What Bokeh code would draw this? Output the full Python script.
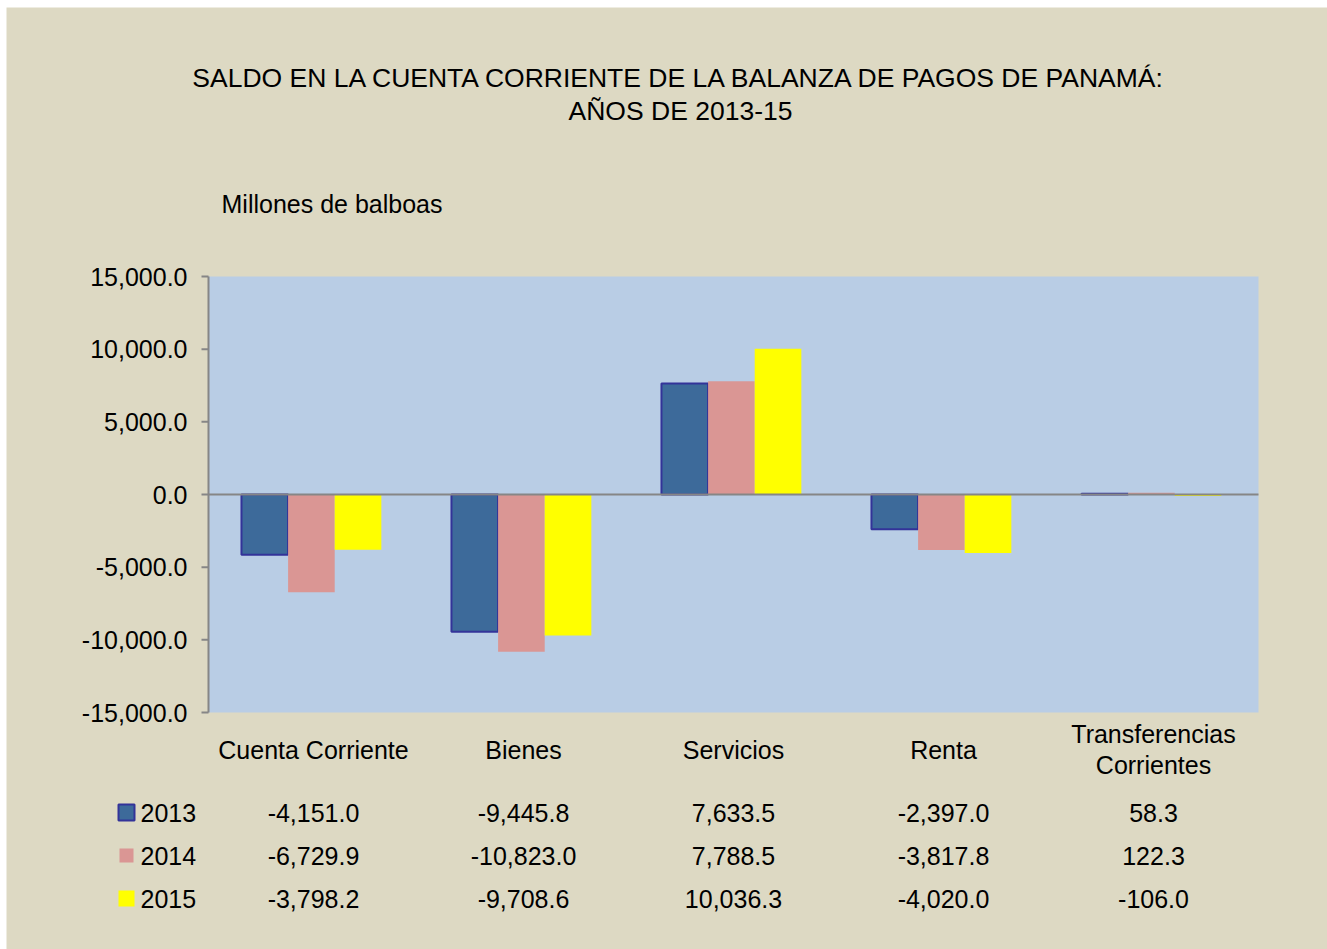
from bokeh.plotting import figure
from bokeh.models import Range1d, BoxAnnotation
from bokeh.embed import file_html
from bokeh.resources import INLINE
from bokeh.core.properties import value

# ---- data ----
categories = ["Cuenta Corriente", "Bienes", "Servicios", "Renta", "Transferencias\nCorrientes"]
years = ["2013", "2014", "2015"]
v2013 = [-4151.0, -9445.8, 7633.5, -2397.0, 58.3]
v2014 = [-6729.9, -10823.0, 7788.5, -3817.8, 122.3]
v2015 = [-3798.2, -9708.6, 10036.3, -4020.0, -106.0]
y_ticks = [-15000, -10000, -5000, 0, 5000, 10000, 15000]
title_lines = ["SALDO EN LA CUENTA CORRIENTE DE LA BALANZA DE PAGOS DE PANAMÁ:", "AÑOS DE 2013-15"]
unit_label = "Millones de balboas"

# ---- layout / style ----
FONT = value("Liberation Sans")
FS = value("25px")
FS_TITLE = value("26.5px")
BG = "#DDD9C3"
PLOT_BG = "#B9CDE5"
COLORS = ["#3D6A9A", "#DA9694", "#FFFF00"]
OUTLINES = ["#333399", None, None]
GRAY = "#868686"

MARGIN_L, MARGIN_T = 6, 7           # white strip of the page
PAGE_W, PAGE_H = 1327, 949
PL, PR, PT, PB = 208, 1258, 276, 712  # plot area in page pixels
YMIN, YMAX = y_ticks[0], y_ticks[-1]
N = len(categories)

xs_per_px = N / (PR - PL)
ys_per_px = (YMAX - YMIN) / (PB - PT)

def dx(px):
    return (px - PL) * xs_per_px

def dy(py):
    return YMIN + (PB - py) * ys_per_px

W, H = PAGE_W - MARGIN_L, PAGE_H - MARGIN_T
p = figure(width=W, height=H,
           x_range=Range1d(dx(MARGIN_L), dx(PAGE_W)),
           y_range=Range1d(dy(PAGE_H), dy(MARGIN_T)),
           output_backend="svg", toolbar_location=None,
           x_axis_location=None, y_axis_location=None, min_border=0)
p.margin = (MARGIN_T, 0, 0, MARGIN_L)
p.background_fill_color = BG
p.border_fill_color = BG
p.outline_line_color = None
p.grid.visible = False

# plot area
p.add_layout(BoxAnnotation(left=0, right=N, bottom=YMIN, top=YMAX, fill_color=PLOT_BG,
                           fill_alpha=1, line_color=None, level="underlay"))

# bars
bw = 0.222
series = [v2013, v2014, v2015]
for k, vals in enumerate(series):
    xs = [i + 0.49 + (k - 1) * bw for i in range(N)]
    if OUTLINES[k]:
        p.vbar(x=xs, top=vals, bottom=0, width=bw, fill_color=COLORS[k],
               line_color=OUTLINES[k], line_width=2)
    else:
        p.vbar(x=xs, top=vals, bottom=0, width=bw, fill_color=COLORS[k], line_color=None)

# zero line
p.segment(x0=[0], y0=[0], x1=[N], y1=[0], line_color=GRAY, line_width=2)

# y axis
p.segment(x0=[0], y0=[YMIN], x1=[0], y1=[YMAX], line_color=GRAY, line_width=2)
tick_len = 7 * xs_per_px
p.segment(x0=[-tick_len] * len(y_ticks), y0=y_ticks, x1=[0] * len(y_ticks), y1=y_ticks,
          line_color=GRAY, line_width=2)
p.text(x=[dx(187)] * len(y_ticks), y=y_ticks, text=[f"{t:,.1f}" for t in y_ticks],
       text_align="right", text_baseline="middle", text_font=FONT, text_font_size=FS,
       text_color="black")

# title and unit label
p.text(x=[dx(680)] * 2, y=[dy(77), dy(110)], text=title_lines, text_align="center",
       text_baseline="middle", text_font=FONT, text_font_size=FS_TITLE, text_color="black")
p.text(x=[dx(221)], y=[dy(203)], text=[unit_label], text_align="left",
       text_baseline="middle", text_font=FONT, text_font_size=FS, text_color="black")

# category labels
p.text(x=[i + 0.5 for i in range(N)], y=[dy(749)] * N, text=categories, text_align="center",
       text_baseline="middle", text_font=FONT, text_font_size=FS, text_color="black",
       text_line_height=1.12)

# data table with legend keys
row_py = [812, 855, 898]
key_sizes = [16, 14, 16]
for k, vals in enumerate(series):
    yrow = dy(row_py[k])
    p.scatter(x=[dx(126)], y=[yrow], marker="square", size=key_sizes[k], fill_color=COLORS[k],
              line_color=OUTLINES[k] if OUTLINES[k] else None, line_width=2)
    p.text(x=[dx(140)], y=[yrow], text=[years[k]], text_align="left", text_baseline="middle",
           text_font=FONT, text_font_size=FS, text_color="black")
    p.text(x=[i + 0.5 for i in range(N)], y=[yrow] * N, text=[f"{v:,.1f}" for v in vals],
           text_align="center", text_baseline="middle", text_font=FONT, text_font_size=FS,
           text_color="black")

open("out.html", "w").write(file_html(p, INLINE))
